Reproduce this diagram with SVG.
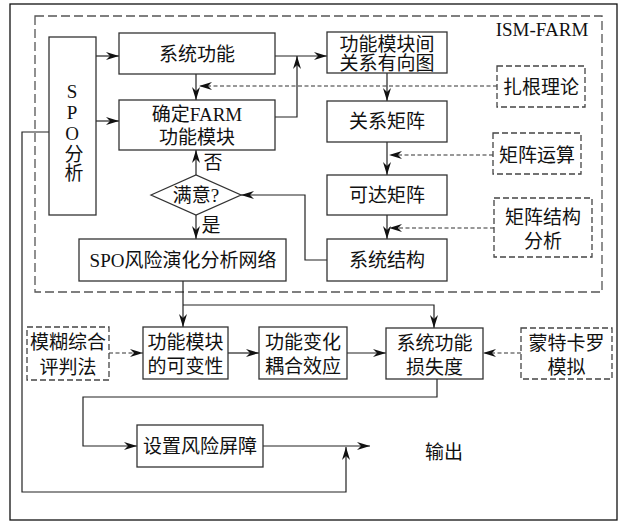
<svg xmlns="http://www.w3.org/2000/svg" width="620" height="522" viewBox="0 0 620 522">
<defs>
<marker id="ah" markerUnits="userSpaceOnUse" markerWidth="14" markerHeight="9" refX="13" refY="4" orient="auto">
<path d="M0,0 L13,4 L0,8 L4,4 z" fill="#111"/>
</marker>
<style>
.box{fill:#fff;stroke:#333;stroke-width:1.3}
.dbox{fill:#fff;stroke:#444;stroke-width:1.3;stroke-dasharray:6,3}
.big{fill:none;stroke:#555;stroke-width:1.3;stroke-dasharray:9,4}
.ln{fill:none;stroke:#222;stroke-width:1.2}
.dl{fill:none;stroke:#333;stroke-width:1.2;stroke-dasharray:4,2.5}
text{font-family:"Liberation Serif","Noto Sans CJK SC",serif;font-size:19px;fill:#111;text-anchor:middle;dominant-baseline:central}
.vt{writing-mode:vertical-rl;text-orientation:upright;text-anchor:start}
</style>
</defs>
<rect x="10" y="4" width="607" height="516" fill="#fff" stroke="#111" stroke-width="1.3"/>
<rect class="big" x="35" y="16" width="567" height="276"/>
<text x="542" y="29">ISM-FARM</text>

<g id="connectors">
<path class="ln" d="M96,56 H119" marker-end="url(#ah)"/>
<path class="ln" d="M96,121 H119" marker-end="url(#ah)"/>
<path class="ln" d="M196,74 V100" marker-end="url(#ah)"/>
<path class="ln" d="M275,56 H327" marker-end="url(#ah)"/>
<path class="ln" d="M275,117 H297 V56" marker-end="url(#ah)"/>
<path class="dl" d="M497,86 H199" marker-end="url(#ah)"/>
<path class="ln" d="M387,73 V101" marker-end="url(#ah)"/>
<path class="ln" d="M387,142 V175" marker-end="url(#ah)"/>
<path class="dl" d="M493,155 H389" marker-end="url(#ah)"/>
<path class="ln" d="M387,215 V239" marker-end="url(#ah)"/>
<path class="dl" d="M494,228 H389" marker-end="url(#ah)"/>
<path class="ln" d="M327,260 H305 V195 H241" marker-end="url(#ah)"/>
<path class="ln" d="M196,175 V150" marker-end="url(#ah)"/>
<path class="ln" d="M196,215 V239" marker-end="url(#ah)"/>
<path class="ln" d="M183,281 V327" marker-end="url(#ah)"/>
<path class="ln" d="M183,305 H434 V328" marker-end="url(#ah)"/>
<path class="dl" d="M109,353 H143" marker-end="url(#ah)"/>
<path class="ln" d="M228,353 H259" marker-end="url(#ah)"/>
<path class="ln" d="M347,353 H386" marker-end="url(#ah)"/>
<path class="dl" d="M521,353 H483" marker-end="url(#ah)"/>
<path class="ln" d="M437,379 V397 H83 V446 H137" marker-end="url(#ah)"/>
<path class="ln" d="M263,446 H370" marker-end="url(#ah)"/>
<path class="ln" d="M49,132 H22 V492 H346 V447" marker-end="url(#ah)"/>
</g>

<g id="spo-analysis"><rect class="box" x="49" y="37" width="47" height="178"/>
<text class="vt" x="72" y="81" font-size="18">SPO分析</text></g>
<g id="sys-func"><rect class="box" x="119" y="33" width="156" height="41"/><text x="197" y="54">系统功能</text></g>
<g id="farm-module"><rect class="box" x="119" y="100" width="156" height="50"/><text x="197" y="114">确定FARM</text><text x="197" y="137">功能模块</text></g>
<g id="digraph"><rect class="box" x="327" y="32" width="120" height="41"/><text x="387" y="44">功能模块间</text><text x="387" y="63">关系有向图</text></g>
<g id="grounded"><rect class="dbox" x="497" y="66" width="88" height="41"/><text x="541" y="87">扎根理论</text></g>
<g id="rel-matrix"><rect class="box" x="327" y="101" width="120" height="41"/><text x="387" y="121">关系矩阵</text></g>
<g id="matrix-op"><rect class="dbox" x="493" y="133" width="88" height="41"/><text x="537" y="155">矩阵运算</text></g>
<g id="reach-matrix"><rect class="box" x="327" y="175" width="120" height="40"/><text x="387" y="195">可达矩阵</text></g>
<g id="matrix-struct"><rect class="dbox" x="494" y="198" width="98" height="59"/><text x="543" y="217">矩阵结构</text><text x="543" y="241">分析</text></g>
<g id="sys-struct"><rect class="box" x="327" y="239" width="120" height="42"/><text x="387" y="260">系统结构</text></g>
<g id="satisfied"><polygon class="box" points="151,195 196,175 241,195 196,215"/><text x="196" y="195">满意?</text></g>
<text x="213" y="162">否</text>
<text x="211" y="225">是</text>
<g id="spo-net"><rect class="box" x="79" y="239" width="207" height="42"/><text x="183" y="260">SPO风险演化分析网络</text></g>
<g id="fuzzy"><rect class="dbox" x="27" y="327" width="82" height="53"/><text x="68" y="342">模糊综合</text><text x="68" y="367">评判法</text></g>
<g id="variability"><rect class="box" x="143" y="327" width="85" height="52"/><text x="185.5" y="342">功能模块</text><text x="185.5" y="366">的可变性</text></g>
<g id="coupling"><rect class="box" x="259" y="327" width="88" height="52"/><text x="303" y="342">功能变化</text><text x="303" y="366">耦合效应</text></g>
<g id="loss"><rect class="box" x="386" y="328" width="97" height="51"/><text x="434.5" y="343">系统功能</text><text x="434.5" y="367">损失度</text></g>
<g id="monte-carlo"><rect class="dbox" x="521" y="328" width="91" height="51"/><text x="566.5" y="343">蒙特卡罗</text><text x="566.5" y="367">模拟</text></g>
<g id="barrier"><rect class="box" x="137" y="425" width="126" height="42"/><text x="200" y="446">设置风险屏障</text></g>
<text x="444" y="452">输出</text>
</svg>
